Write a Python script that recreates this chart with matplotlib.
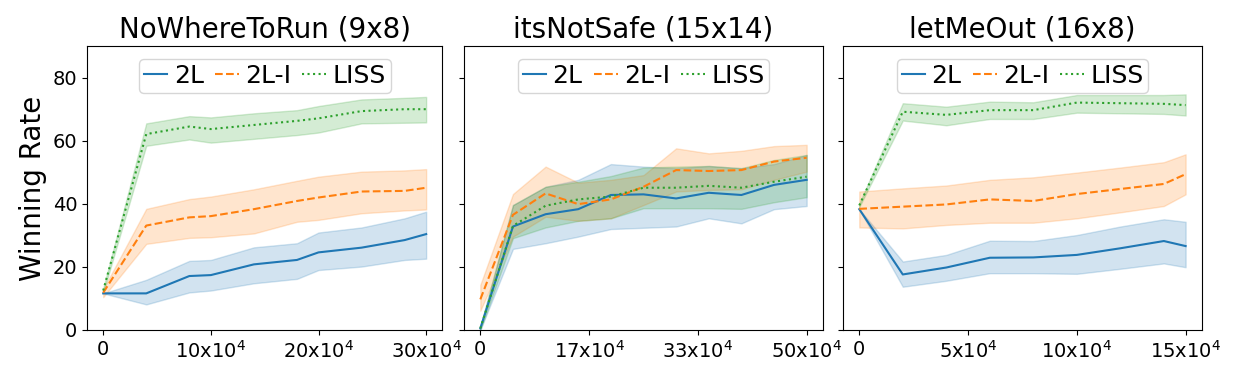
import numpy as np
import matplotlib
matplotlib.use("Agg")
import matplotlib.pyplot as plt

# NoWhereToRun (9x8), steps in units of 10^4
x1 = [0, 4, 8, 10, 14, 18, 20, 24, 28, 30]
l2_1 = [11.6, 11.6, 17.1, 17.4, 20.8, 22.2, 24.6, 26.1, 28.5, 30.4]
l2_1_lo = [11.6, 8.1, 11.9, 12.5, 14.8, 16.2, 19.0, 20.1, 22.2, 22.6]
l2_1_hi = [11.6, 15.9, 21.9, 22.2, 26.2, 27.5, 30.9, 32.5, 35.4, 37.5]
l2i_1 = [11.8, 33.1, 35.7, 36.1, 38.3, 40.9, 42.0, 43.9, 44.1, 45.1]
l2i_1_lo = [10.4, 27.3, 29.2, 29.4, 30.6, 34.3, 34.9, 37.0, 37.9, 38.2]
l2i_1_hi = [12.9, 38.4, 41.5, 42.3, 44.6, 47.3, 48.6, 50.2, 50.6, 51.0]
liss_1 = [12.5, 62.1, 64.5, 63.7, 65.0, 66.3, 67.1, 69.4, 70.0, 70.0]
liss_1_lo = [11.8, 58.4, 60.4, 59.4, 60.6, 61.8, 62.6, 65.5, 65.7, 65.8]
liss_1_hi = [13.2, 65.5, 67.8, 67.4, 68.7, 69.7, 71.0, 73.1, 73.6, 73.9]

# itsNotSafe (15x14)
x2 = [0, 5, 10, 15, 20, 25, 30, 35, 40, 45, 50]
l2_2 = [0.5, 32.8, 36.7, 38.3, 42.8, 43.0, 41.7, 43.5, 42.8, 46.0, 47.6]
l2_2_lo = [0.0, 25.7, 27.5, 29.6, 32.0, 32.4, 32.8, 35.4, 33.8, 38.3, 39.3]
l2_2_hi = [1.0, 39.6, 45.4, 47.6, 52.6, 51.8, 51.3, 52.0, 51.3, 52.6, 55.5]
l2i_2 = [9.7, 36.5, 43.3, 39.9, 41.4, 45.4, 50.7, 50.4, 50.7, 53.4, 54.6]
l2i_2_lo = [6.1, 29.6, 35.9, 34.6, 35.4, 39.6, 43.9, 44.4, 44.6, 47.6, 50.2]
l2i_2_hi = [14.3, 43.1, 51.8, 46.7, 47.6, 49.1, 57.6, 56.0, 56.8, 58.3, 58.7]
liss_2 = [0.5, 33.0, 39.4, 41.4, 42.3, 45.1, 45.1, 45.7, 45.1, 47.0, 48.6]
liss_2_lo = [0.0, 29.1, 32.5, 34.6, 35.4, 38.6, 38.6, 38.6, 38.4, 40.5, 42.1]
liss_2_hi = [1.0, 39.6, 45.4, 47.0, 48.8, 51.5, 51.8, 52.0, 51.3, 53.9, 55.5]

# letMeOut (16x8)
x3 = [0, 2, 4, 6, 8, 10, 12, 14, 15]
l2_3 = [38.3, 17.6, 19.8, 22.9, 23.0, 23.8, 25.9, 28.2, 26.6]
l2_3_lo = [38.3, 13.7, 15.6, 18.0, 18.0, 17.8, 19.4, 21.1, 19.9]
l2_3_hi = [38.3, 21.7, 23.8, 28.3, 28.2, 30.1, 32.8, 35.1, 34.3]
l2i_3 = [38.4, 39.1, 39.8, 41.4, 40.9, 43.1, 44.7, 46.3, 49.4]
l2i_3_lo = [32.5, 32.2, 33.3, 34.0, 34.0, 35.4, 37.3, 39.3, 43.0]
l2i_3_hi = [43.9, 44.9, 45.8, 47.6, 48.4, 49.9, 51.5, 53.2, 55.7]
liss_3 = [39.5, 69.2, 68.2, 69.7, 69.7, 72.1, 71.9, 71.7, 71.3]
liss_3_lo = [39.0, 66.4, 64.9, 66.9, 66.9, 68.9, 68.7, 68.5, 68.0]
liss_3_hi = [40.0, 71.9, 70.8, 72.4, 72.2, 74.5, 74.5, 74.5, 74.7]

titles = ["NoWhereToRun (9x8)", "itsNotSafe (15x14)", "letMeOut (16x8)"]
xmax = [30, 50, 15]
xtick_labels = [["0", "10x$10^4$", "20x$10^4$", "30x$10^4$"],
                ["0", "17x$10^4$", "33x$10^4$", "50x$10^4$"],
                ["0", "5x$10^4$", "10x$10^4$", "15x$10^4$"]]
names = ["2L", "2L-I", "LISS"]

panels = [
    (x1, [(l2_1, l2_1_lo, l2_1_hi), (l2i_1, l2i_1_lo, l2i_1_hi), (liss_1, liss_1_lo, liss_1_hi)]),
    (x2, [(l2_2, l2_2_lo, l2_2_hi), (l2i_2, l2i_2_lo, l2i_2_hi), (liss_2, liss_2_lo, liss_2_hi)]),
    (x3, [(l2_3, l2_3_lo, l2_3_hi), (l2i_3, l2i_3_lo, l2i_3_hi), (liss_3, liss_3_lo, liss_3_hi)]),
]

colors = ["#1f77b4", "#ff7f0e", "#2ca02c"]
styles = ["-", "--", ":"]

fig = plt.figure(figsize=(12.4, 3.72), dpi=100)
lefts = [0.0702, 0.3742, 0.6798]
axes = []
for i in range(3):
    if i == 0:
        ax = fig.add_axes([lefts[i], 0.113, 0.2865, 0.763])
    else:
        ax = fig.add_axes([lefts[i], 0.113, 0.2895, 0.763], sharey=axes[0])
    axes.append(ax)

for i, ax in enumerate(axes):
    xs, series = panels[i]
    for j, (m, lo, hi) in enumerate(series):
        ax.plot(xs, m, color=colors[j], linestyle=styles[j], lw=1.5, label=names[j])
        ax.fill_between(xs, lo, hi, color=colors[j], alpha=0.2, lw=1)
    ax.set_title(titles[i], fontsize=20)
    ax.set_xticks(np.linspace(0, xmax[i], 4))
    ax.set_xticklabels(xtick_labels[i])
    ax.tick_params(labelsize=14)
    ax.legend(loc="upper center", ncol=3, fontsize=18, handlelength=0.95,
              columnspacing=0.45, handletextpad=0.25, borderpad=0.2,
              borderaxespad=0.5)
    if i > 0:
        plt.setp(ax.get_yticklabels(), visible=False)

axes[0].set_ylim(0, 90)
axes[0].set_yticks([0, 20, 40, 60, 80])
axes[0].set_ylabel("Winning Rate", fontsize=20)

fig.savefig("out.png", dpi=100)
